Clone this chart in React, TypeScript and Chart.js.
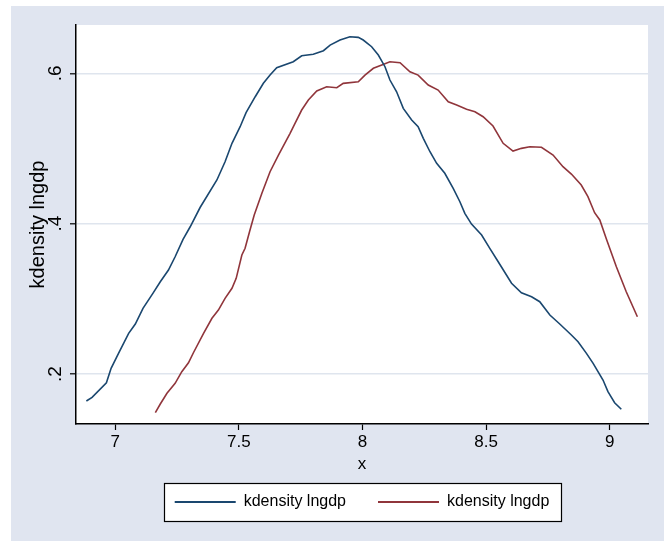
import React, { useEffect, useRef } from "react";
import { Chart, registerables } from "chart.js";

Chart.register(...registerables);

// ---- data ----
const seriesLabels = ["kdensity lngdp", "kdensity lngdp"];

const blueX = [6.883, 6.906, 6.964, 6.983, 7.013, 7.054, 7.081, 7.112, 7.152, 7.182, 7.215, 7.242, 7.274, 7.303, 7.343, 7.411, 7.444, 7.472, 7.505, 7.529, 7.566, 7.599, 7.626, 7.653, 7.72, 7.754, 7.801, 7.842, 7.869, 7.909, 7.949, 7.983, 8.003, 8.037, 8.064, 8.091, 8.111, 8.138, 8.165, 8.199, 8.225, 8.246, 8.273, 8.3, 8.333, 8.367, 8.394, 8.414, 8.441, 8.482, 8.515, 8.549, 8.603, 8.643, 8.684, 8.717, 8.758, 8.798, 8.845, 8.872, 8.906, 8.933, 8.973, 8.993, 9.02, 9.047];
const blueY = [0.1641, 0.169, 0.1884, 0.2076, 0.2275, 0.2541, 0.2665, 0.2874, 0.3073, 0.3228, 0.3383, 0.356, 0.3792, 0.3959, 0.4215, 0.4581, 0.4824, 0.5069, 0.529, 0.5476, 0.5689, 0.5867, 0.5977, 0.6074, 0.6154, 0.6234, 0.6253, 0.6301, 0.6376, 0.6443, 0.6487, 0.6479, 0.6443, 0.6354, 0.6243, 0.6088, 0.5911, 0.5755, 0.5534, 0.5379, 0.529, 0.5135, 0.4957, 0.4803, 0.467, 0.447, 0.4292, 0.4138, 0.3995, 0.3849, 0.3672, 0.3494, 0.3207, 0.3081, 0.3028, 0.2962, 0.2785, 0.2665, 0.2519, 0.243, 0.2275, 0.2142, 0.192, 0.1765, 0.1618, 0.1531];

const redX = [7.162, 7.182, 7.209, 7.242, 7.269, 7.296, 7.316, 7.357, 7.391, 7.417, 7.444, 7.472, 7.489, 7.512, 7.525, 7.543, 7.562, 7.593, 7.626, 7.66, 7.707, 7.727, 7.754, 7.781, 7.815, 7.855, 7.896, 7.922, 7.983, 8.01, 8.044, 8.078, 8.111, 8.152, 8.192, 8.225, 8.266, 8.306, 8.347, 8.381, 8.421, 8.455, 8.488, 8.528, 8.569, 8.609, 8.643, 8.677, 8.724, 8.771, 8.811, 8.845, 8.885, 8.912, 8.939, 8.96, 8.987, 9.027, 9.067, 9.112];
const redY = [0.1485, 0.1601, 0.1743, 0.1876, 0.2031, 0.215, 0.2283, 0.2541, 0.2741, 0.2851, 0.3007, 0.314, 0.3273, 0.3583, 0.3672, 0.3893, 0.4115, 0.4404, 0.4691, 0.4913, 0.5202, 0.5335, 0.5512, 0.5645, 0.5765, 0.5822, 0.5808, 0.5867, 0.5888, 0.5977, 0.6067, 0.611, 0.6154, 0.6141, 0.6021, 0.5977, 0.5844, 0.5778, 0.5622, 0.5578, 0.5521, 0.5489, 0.5423, 0.5299, 0.5069, 0.4966, 0.5002, 0.5024, 0.5016, 0.4913, 0.4758, 0.466, 0.4514, 0.4359, 0.4146, 0.4049, 0.3792, 0.3427, 0.3095, 0.2762];

const xTicks = [7, 7.5, 8, 8.5, 9];
const xTickLabels = ["7", "7.5", "8", "8.5", "9"];
const yTicks = [0.2, 0.4, 0.6];
const yTickLabels = [".2", ".4", ".6"];
const xTitle = "x";
const yTitle = "kdensity lngdp";

const BLUE = "#1a476f";
const RED = "#90353b";
const BG = "#e0e5f0";
const GRID = "#dfe5ee";

const FONT = "'Liberation Sans', Arial, sans-serif";

const W = 653;
const H = 535;

const decorPlugin = {
  id: "decor",
  beforeDraw(chart: any) {
    const { ctx, chartArea } = chart;
    ctx.save();
    ctx.fillStyle = "#ffffff";
    ctx.fillRect(chartArea.left, chartArea.top, chartArea.right - chartArea.left, chartArea.bottom - chartArea.top);
    const lg = chart.legend;
    if (lg && lg.legendHitBoxes && lg.legendHitBoxes.length) {
      const hb = lg.legendHitBoxes;
      const last = hb[hb.length - 1];
      const left = Math.round(hb[0].left - 11) + 0.5;
      const right = Math.round(last.left + last.width + 12) + 0.5;
      const cy = hb[0].top + hb[0].height / 2;
      const top = Math.round(cy - 19) + 0.5;
      const bottom = Math.round(cy + 19) + 0.5;
      ctx.fillStyle = "#ffffff";
      ctx.fillRect(left, top, right - left, bottom - top);
      ctx.strokeStyle = "#000000";
      ctx.lineWidth = 1.2;
      ctx.strokeRect(left, top, right - left, bottom - top);
    }
    ctx.restore();
  },
};

export default function App() {
  const ref = useRef<HTMLCanvasElement | null>(null);

  useEffect(() => {
    if (!ref.current) return;
    const chart = new Chart(ref.current, {
      type: "line",
      data: {
        datasets: [
          {
            label: seriesLabels[0],
            data: blueX.map((x, i) => ({ x, y: blueY[i] })),
            borderColor: BLUE,
            backgroundColor: BLUE,
            borderWidth: 1.6,
            pointRadius: 0,
            fill: false,
            tension: 0,
          },
          {
            label: seriesLabels[1],
            data: redX.map((x, i) => ({ x, y: redY[i] })),
            borderColor: RED,
            backgroundColor: RED,
            borderWidth: 1.6,
            pointRadius: 0,
            fill: false,
            tension: 0,
          },
        ],
      },
      options: {
        responsive: false,
        animation: false,
        devicePixelRatio: 1,
        layout: { padding: { top: 19, right: 16, bottom: 21, left: 0 } },
        plugins: {
          tooltip: { enabled: false },
          legend: {
            position: "bottom",
            fullSize: false,
            labels: {
              boxWidth: 61,
              boxHeight: 2,
              padding: 32,
              color: "#000",
              font: { family: FONT, size: 16 },
              generateLabels: (c: any) =>
                Chart.defaults.plugins.legend.labels
                  .generateLabels(c)
                  .map((l: any) => ({ ...l, fillStyle: l.strokeStyle, lineWidth: 0 })),
            },
          },
        },
        scales: {
          x: {
            type: "linear",
            min: 6.841,
            max: 9.155,
            afterFit: (s: any) => {
              s.height = 38;
            },
            afterBuildTicks: (s: any) => {
              s.ticks = xTicks.map((v) => ({ value: v }));
            },
            ticks: {
              color: "#000",
              font: { family: FONT, size: 17 },
              padding: 2,
              maxRotation: 0,
              minRotation: 0,
              callback: (v: any) => {
                const i = xTicks.indexOf(Number(v));
                return i >= 0 ? xTickLabels[i] : "";
              },
            },
            grid: {
              drawOnChartArea: false,
              drawTicks: true,
              tickLength: 6,
              tickColor: "#000",
              tickWidth: 1.2,
            },
            border: { display: true, color: "#000", width: 1.5 },
            title: {
              display: true,
              text: xTitle,
              color: "#000",
              font: { family: FONT, size: 17 },
              padding: { top: 0, bottom: -13 },
            },
          },
          y: {
            type: "linear",
            min: 0.1335,
            max: 0.6643,
            afterFit: (s: any) => {
              s.width = 65;
            },
            afterBuildTicks: (s: any) => {
              s.ticks = yTicks.map((v) => ({ value: v }));
            },
            ticks: {
              color: "#000",
              font: { family: FONT, size: 19 },
              minRotation: 90,
              maxRotation: 90,
              crossAlign: "center",
              padding: 6,
              callback: (v: any) => {
                const i = yTicks.findIndex((t) => Math.abs(t - Number(v)) < 1e-9);
                return i >= 0 ? yTickLabels[i] : "";
              },
            },
            grid: {
              display: true,
              drawOnChartArea: true,
              color: GRID,
              lineWidth: 1.6,
              drawTicks: true,
              tickLength: 6,
              tickColor: "#000",
              tickWidth: 1.2,
            },
            border: { display: true, color: "#000", width: 1.5 },
            title: {
              display: true,
              text: yTitle,
              color: "#000",
              font: { family: FONT, size: 20 },
              padding: { top: 15, bottom: 0 },
            },
          },
        },
      },
      plugins: [decorPlugin],
    } as any);
    return () => chart.destroy();
  }, []);

  return (
    <div
      style={{
        position: "absolute",
        left: 11,
        top: 6,
        width: W,
        height: H,
        background: BG,
      }}
    >
      <canvas ref={ref} width={W} height={H} style={{ width: W, height: H, display: "block" }} />
    </div>
  );
}
